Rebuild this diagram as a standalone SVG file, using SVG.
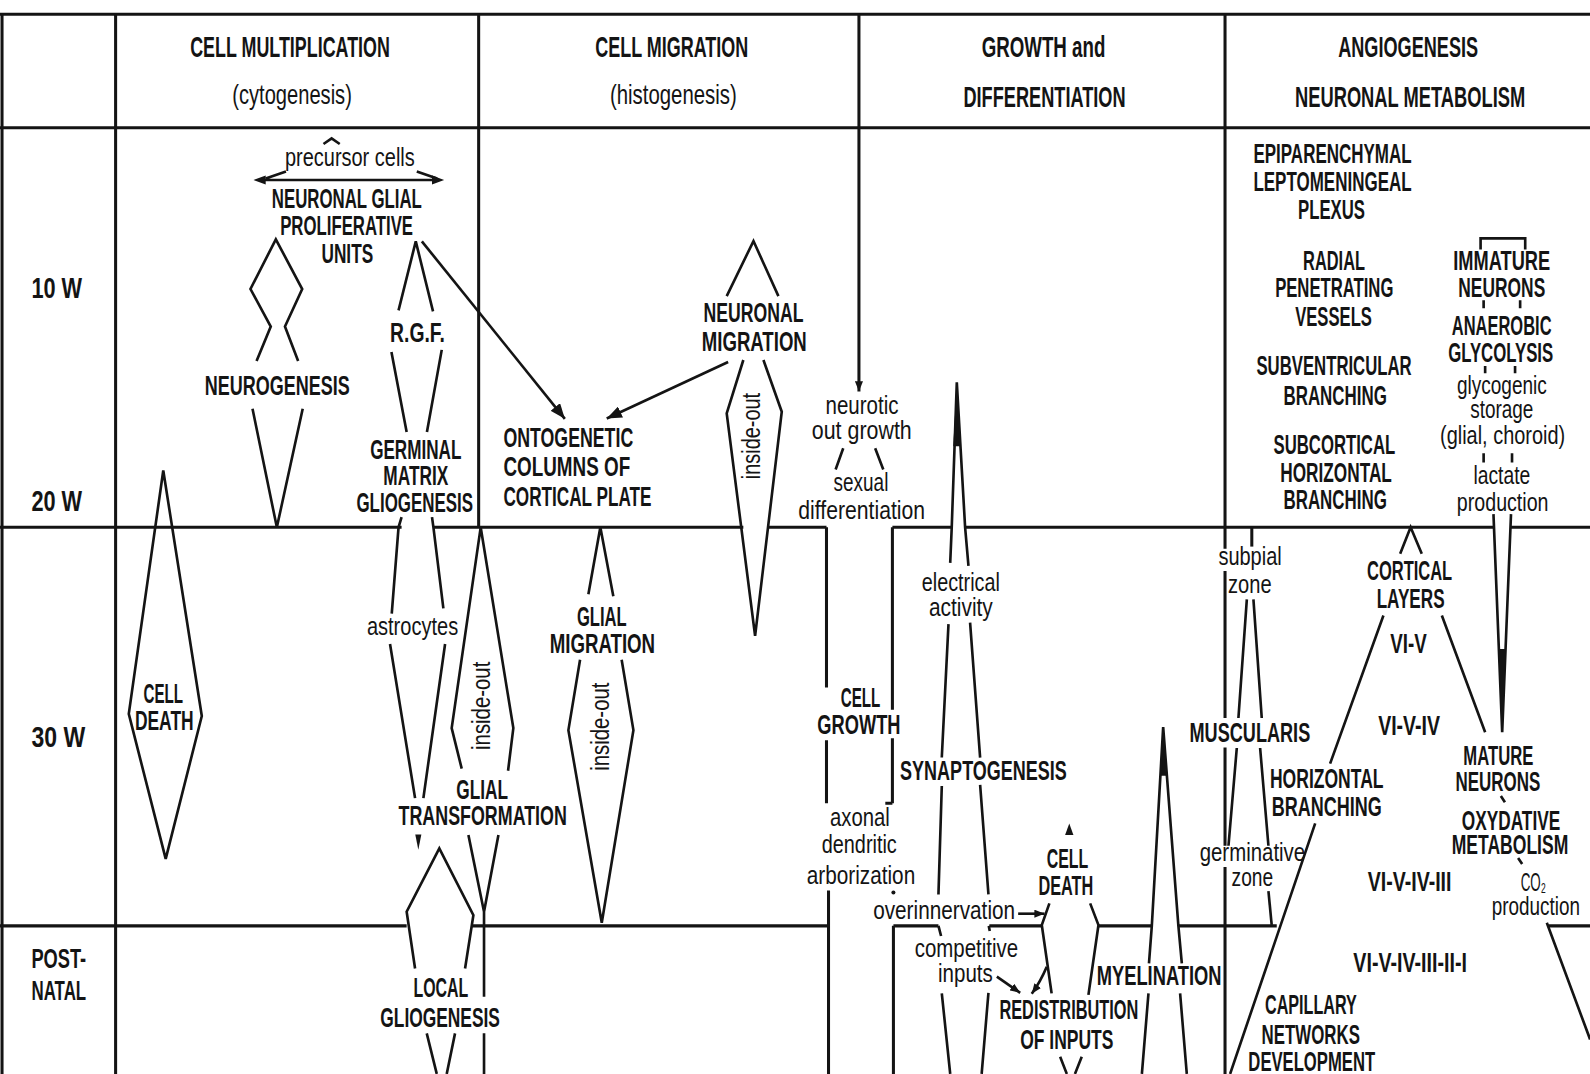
<svg xmlns="http://www.w3.org/2000/svg" width="1590" height="1074" viewBox="0 0 1590 1074">
<style>
.g{stroke:#141414;stroke-width:3;fill:none}
.s{stroke:#141414;stroke-width:2.6;fill:none;stroke-linejoin:miter}
.f{fill:#141414;stroke:none}
text{font-family:"Liberation Sans",Arial,sans-serif;fill:#141414;text-anchor:middle;font-weight:bold;font-size:27px}
.h{font-size:29px}
.hl{font-weight:normal;font-size:28px}
.lc{font-weight:normal;font-size:25px}
.st{text-anchor:start}
</style>
<defs>
<marker id="a" viewBox="0 0 10 8" refX="10" refY="4" markerWidth="15" markerHeight="12" markerUnits="userSpaceOnUse" orient="auto"><path d="M0,0L10,4L0,8z" fill="#141414"/></marker>
<marker id="b" viewBox="0 0 10 8" refX="10" refY="4" markerWidth="10" markerHeight="8" markerUnits="userSpaceOnUse" orient="auto"><path d="M0,0L10,4L0,8z" fill="#141414"/></marker>
</defs>
<rect width="1590" height="1074" fill="#fff"/>
<g transform="scale(1.0141)">
<g id="grid">
<path class="g" d="M0,14H1568 M2,14V1059 M0,126H1568 M114,14V1059 M472,14V520 M1208,14V541 M1208,563V708 M1208,737V834 M1208,855V1059"/>
<path class="g" d="M847,14V386" marker-end="url(#b)"/>
<path class="g" d="M0,520H396 M427,520H733 M757,520H815 M880,520H938.5 M951.7,520H1472.7 M1490,520H1568"/>
<path class="g" d="M815,520V678 M815,730V792 M880,520V700 M880,728V792 M873,792H880 M817,878V1059 M881,913V1059"/>
<path class="g" d="M0,913H401 M465,913H816 M881,913H925.4 M975.6,913H1027.3 M1083.2,913H1135.8 M1162,913H1259 M1527,913H1568"/>
</g>
<g id="headers">
<text class="h" x="286" y="56" textLength="197" lengthAdjust="spacingAndGlyphs">CELL MULTIPLICATION</text>
<text class="hl" x="288" y="103" textLength="118" lengthAdjust="spacingAndGlyphs">(cytogenesis)</text>
<text class="h" x="662.4" y="56" textLength="151" lengthAdjust="spacingAndGlyphs">CELL MIGRATION</text>
<text class="hl" x="664" y="103" textLength="125" lengthAdjust="spacingAndGlyphs">(histogenesis)</text>
<text class="h" x="1029" y="56" textLength="122" lengthAdjust="spacingAndGlyphs">GROWTH and</text>
<text class="h" x="1030" y="106" textLength="160" lengthAdjust="spacingAndGlyphs">DIFFERENTIATION</text>
<text class="h" x="1388.6" y="56" textLength="138" lengthAdjust="spacingAndGlyphs">ANGIOGENESIS</text>
<text class="h" x="1390.5" y="105.5" textLength="227" lengthAdjust="spacingAndGlyphs">NEURONAL METABOLISM</text>
</g>
<g id="ages">
<text class="h st" x="31" y="294" textLength="50" lengthAdjust="spacingAndGlyphs">10 W</text>
<text class="h st" x="31" y="503.5" textLength="50" lengthAdjust="spacingAndGlyphs">20 W</text>
<text class="h st" x="31" y="737" textLength="53" lengthAdjust="spacingAndGlyphs">30 W</text>
<text class="st" x="31" y="955" textLength="54" lengthAdjust="spacingAndGlyphs">POST-</text>
<text class="st" x="31" y="986" textLength="54" lengthAdjust="spacingAndGlyphs">NATAL</text>
</g>
<g id="connectors">
<path class="s" d="M416,238L557,413" marker-end="url(#a)"/>
<path class="s" d="M718,357L598.3,412.7" marker-end="url(#a)"/>
<path class="s" d="M1004,901H1030" marker-end="url(#b)"/>
<path class="s" d="M983,963L1006,979" marker-end="url(#b)"/>
<path class="s" d="M1032.2,953.3Q1026,968 1017.4,980" marker-end="url(#b)"/>
</g>
<g id="precursor">
<text class="lc" x="345" y="164" textLength="128" lengthAdjust="spacingAndGlyphs">precursor cells</text>
<path class="s" d="M319,142L327,136.5L335,142" stroke-width="2"/>
<path class="s" d="M256,177.5H432 M262,176L282,169 M411,169L431,176"/>
<path class="f" d="M250,177.5L262,173L262,182z M438,177.5L426,173L426,182z"/>
<text x="342" y="205.5" textLength="148" lengthAdjust="spacingAndGlyphs">NEURONAL GLIAL</text>
<text x="341.8" y="232" textLength="131" lengthAdjust="spacingAndGlyphs">PROLIFERATIVE</text>
<text x="342.5" y="259.5" textLength="51" lengthAdjust="spacingAndGlyphs">UNITS</text>
</g>
<g id="neurogenesis">
<path class="s" d="M253,356L267,322L247,285L272,236L298,285L281,322L294,356"/>
<text x="273.5" y="390" textLength="143" lengthAdjust="spacingAndGlyphs">NEUROGENESIS</text>
<path class="s" d="M249,403L273,520L298.5,403"/>
</g>
<g id="rgf">
<path class="s" d="M393,306L410,238L427,307"/>
<text x="411.7" y="337" textLength="54" lengthAdjust="spacingAndGlyphs">R.G.F.</text>
<path class="s" d="M386,347L401,426 M435.6,345L421,426"/>
<text x="410" y="452.6" textLength="90" lengthAdjust="spacingAndGlyphs">GERMINAL</text>
<text x="410" y="478.7" textLength="64" lengthAdjust="spacingAndGlyphs">MATRIX</text>
<text x="409" y="504.7" textLength="115" lengthAdjust="spacingAndGlyphs">GLIOGENESIS</text>
</g>
<g id="astrocytes">
<path class="s" d="M396,510L393,520L386.3,605 M426,510L427.4,520L437.2,600"/>
<text class="lc" x="406.8" y="626" textLength="90" lengthAdjust="spacingAndGlyphs">astrocytes</text>
<path class="s" d="M384.6,635L409.3,787 M438.9,635L417.5,787"/>
</g>
<g id="celldeath1">
<path class="s" d="M161,464L127,704L163.4,847L199,706z"/>
<text x="161" y="693" textLength="39" lengthAdjust="spacingAndGlyphs">CELL</text>
<text x="162" y="720" textLength="58" lengthAdjust="spacingAndGlyphs">DEATH</text>
</g>
<g id="insideout1">
<path class="s" d="M455.3,758L445.4,718L474,520L506.2,718L501,760"/>
<text class="lc" font-size="24" transform="translate(475,696) rotate(-90)" x="0" y="8" textLength="87" lengthAdjust="spacingAndGlyphs">inside-out</text>
</g>
<g id="glialtransformation">
<text x="475.5" y="788" textLength="51" lengthAdjust="spacingAndGlyphs">GLIAL</text>
<text x="476" y="814" textLength="166" lengthAdjust="spacingAndGlyphs">TRANSFORMATION</text>
<path class="f" d="M409.5,823L415.5,823L412.5,838z"/>
<path class="s" d="M461.9,823.5L477.3,899L491.5,823.5 M477.3,899V983 M477.3,1019V1059"/>
</g>
<g id="localgliogenesis">
<path class="s" d="M409.3,955L401,899L433.2,836.6L466.8,902.4L458.6,955"/>
<text x="434.7" y="983" textLength="54" lengthAdjust="spacingAndGlyphs">LOCAL</text>
<text x="434" y="1013" textLength="118" lengthAdjust="spacingAndGlyphs">GLIOGENESIS</text>
<path class="s" d="M420.8,1019L430.7,1059 M448.7,1019L440.5,1059"/>
</g>
<g id="neuronalmigration">
<path class="s" d="M716.6,292L743,237.7L767.6,292"/>
<text x="743" y="318" textLength="98.6" lengthAdjust="spacingAndGlyphs">NEURONAL</text>
<text x="743.8" y="346" textLength="103.6" lengthAdjust="spacingAndGlyphs">MIGRATION</text>
<path class="s" d="M733,355L716.6,407.6L744.6,627L770.9,406L752.8,355"/>
<text class="lc" font-size="24" transform="translate(741,430) rotate(-90)" x="0" y="8" textLength="85" lengthAdjust="spacingAndGlyphs">inside-out</text>
</g>
<g id="ontogenetic">
<text class="st" x="496.4" y="440.3" textLength="128" lengthAdjust="spacingAndGlyphs">ONTOGENETIC</text>
<text class="st" x="496.4" y="469" textLength="125" lengthAdjust="spacingAndGlyphs">COLUMNS OF</text>
<text class="st" x="496.4" y="499" textLength="146" lengthAdjust="spacingAndGlyphs">CORTICAL PLATE</text>
</g>
<g id="glialmigration">
<path class="s" d="M580.2,586L592,520L604.8,588"/>
<text x="593.4" y="617" textLength="49" lengthAdjust="spacingAndGlyphs">GLIAL</text>
<text x="594" y="644" textLength="104" lengthAdjust="spacingAndGlyphs">MIGRATION</text>
<path class="s" d="M572,650.5L560.5,720L593.4,910L624.6,720L613,650.5"/>
<text class="lc" font-size="24" transform="translate(592.6,716.6) rotate(-90)" x="0" y="8" textLength="87" lengthAdjust="spacingAndGlyphs">inside-out</text>
</g>
<g id="neuritic">
<text class="lc" x="850" y="408" textLength="72" lengthAdjust="spacingAndGlyphs">neurotic</text>
<text class="lc" x="849.8" y="433" textLength="98.5" lengthAdjust="spacingAndGlyphs">out growth</text>
<path class="s" d="M824,463L831.5,442 M863,442L871,463" stroke-width="2.2"/>
<text class="lc" x="849" y="484" textLength="54" lengthAdjust="spacingAndGlyphs">sexual</text>
<text class="lc" x="849.7" y="512" textLength="125" lengthAdjust="spacingAndGlyphs">differentiation</text>
</g>
<g id="cellgrowth">
<text x="848.5" y="697" textLength="39" lengthAdjust="spacingAndGlyphs">CELL</text>
<text x="847" y="724" textLength="82" lengthAdjust="spacingAndGlyphs">GROWTH</text>
<text class="lc" x="848" y="815" textLength="59" lengthAdjust="spacingAndGlyphs">axonal</text>
<text class="lc" x="847.3" y="841" textLength="74" lengthAdjust="spacingAndGlyphs">dendritic</text>
<text class="lc" x="849" y="872" textLength="107" lengthAdjust="spacingAndGlyphs">arborization</text>
<circle class="f" cx="881" cy="880" r="2"/>
</g>
<g id="synaptogenesis">
<path class="f" d="M943.5,377L940,440L947,440z"/>
<path class="s" d="M937,555L938.5,520L943.5,377L951.7,520L955,558"/>
<text class="lc" x="947.5" y="583" textLength="77" lengthAdjust="spacingAndGlyphs">electrical</text>
<text class="lc" x="947.5" y="607" textLength="63" lengthAdjust="spacingAndGlyphs">activity</text>
<path class="s" d="M935.3,615.5L928.7,747 M956.6,614L966.5,747"/>
<text x="969.8" y="769" textLength="164.4" lengthAdjust="spacingAndGlyphs">SYNAPTOGENESIS</text>
<path class="s" d="M928.7,775L925.4,882 M966.5,774L974.7,882 M925.4,913L928,923 M975,913L976,918"/>
<text class="lc" x="931" y="906" textLength="140" lengthAdjust="spacingAndGlyphs">overinnervation</text>
<text class="lc" x="953" y="944" textLength="102" lengthAdjust="spacingAndGlyphs">competitive</text>
<text class="lc" x="952" y="968" textLength="54" lengthAdjust="spacingAndGlyphs">inputs</text>
<path class="s" d="M928.7,979.5L937,1059 M974.7,979L968,1059"/>
</g>
<g id="celldeath2">
<path class="f" d="M1054.4,812L1050.3,823.5L1058.5,823.5z"/>
<text x="1052.7" y="855.5" textLength="41" lengthAdjust="spacingAndGlyphs">CELL</text>
<text x="1051" y="883" textLength="54" lengthAdjust="spacingAndGlyphs">DEATH</text>
<path class="s" d="M1034.8,890.8L1027.3,912.2L1037,979.6 M1075,890.8L1083.2,912.2L1073.3,981"/>
</g>
<g id="redistribution">
<text x="1054" y="1005" textLength="137" lengthAdjust="spacingAndGlyphs">REDISTRIBUTION</text>
<text x="1052" y="1034" textLength="92" lengthAdjust="spacingAndGlyphs">OF INPUTS</text>
<path class="s" d="M1045.4,1042L1052,1059 M1066.7,1042L1060,1059"/>
</g>
<g id="myelination">
<path class="f" d="M1147,717L1144,765L1150,765z"/>
<path class="s" d="M1133,950L1135.8,913L1147,717L1162,913L1165.4,950"/>
<text x="1143" y="971.5" textLength="123" lengthAdjust="spacingAndGlyphs">MYELINATION</text>
<path class="s" d="M1132.5,979.6L1126,1059 M1163.7,979.6L1170.3,1059"/>
</g>
<g id="vessels">
<text x="1314" y="160.7" textLength="156" lengthAdjust="spacingAndGlyphs">EPIPARENCHYMAL</text>
<text x="1314" y="188" textLength="156" lengthAdjust="spacingAndGlyphs">LEPTOMENINGEAL</text>
<text x="1313" y="216" textLength="66" lengthAdjust="spacingAndGlyphs">PLEXUS</text>
<text x="1315.5" y="266" textLength="61" lengthAdjust="spacingAndGlyphs">RADIAL</text>
<text x="1315.7" y="293" textLength="116.6" lengthAdjust="spacingAndGlyphs">PENETRATING</text>
<text x="1315" y="321" textLength="75.7" lengthAdjust="spacingAndGlyphs">VESSELS</text>
<text x="1315.5" y="370" textLength="153" lengthAdjust="spacingAndGlyphs">SUBVENTRICULAR</text>
<text x="1316.6" y="399" textLength="102" lengthAdjust="spacingAndGlyphs">BRANCHING</text>
<text x="1315.8" y="448" textLength="120" lengthAdjust="spacingAndGlyphs">SUBCORTICAL</text>
<text x="1317.5" y="475" textLength="110" lengthAdjust="spacingAndGlyphs">HORIZONTAL</text>
<text x="1316.6" y="502" textLength="102" lengthAdjust="spacingAndGlyphs">BRANCHING</text>
</g>
<g id="metabolism">
<path class="s" d="M1460,246V235H1504V246" stroke-width="2.2"/>
<text x="1480.8" y="266" textLength="95.6" lengthAdjust="spacingAndGlyphs">IMMATURE</text>
<text x="1480.9" y="293" textLength="85.7" lengthAdjust="spacingAndGlyphs">NEURONS</text>
<path class="s" d="M1463,296V304 M1499,296V304 M1464.5,361V368 M1494,361V368 M1463,447V456 M1491,447V456" stroke-width="2"/>
<text x="1480.8" y="330" textLength="98.4" lengthAdjust="spacingAndGlyphs">ANAEROBIC</text>
<text x="1479.8" y="357" textLength="103.6" lengthAdjust="spacingAndGlyphs">GLYCOLYSIS</text>
<text class="lc" x="1481" y="389" textLength="88.7" lengthAdjust="spacingAndGlyphs">glycogenic</text>
<text class="lc" x="1480.9" y="412" textLength="62.3" lengthAdjust="spacingAndGlyphs">storage</text>
<text class="lc" x="1481.7" y="438" textLength="123.4" lengthAdjust="spacingAndGlyphs">(glial, choroid)</text>
<text class="lc" x="1481" y="477" textLength="56" lengthAdjust="spacingAndGlyphs">lactate</text>
<text class="lc" x="1481.8" y="504" textLength="90.4" lengthAdjust="spacingAndGlyphs">production</text>
<path class="s" d="M1472.7,507L1481.3,722L1490,507"/>
<path class="f" d="M1477.8,640L1484.8,640L1481.3,722z"/>
</g>
<g id="muscularis">
<path class="g" d="M1234.4,520V539"/>
<text class="lc" x="1232.7" y="557" textLength="62.5" lengthAdjust="spacingAndGlyphs">subpial</text>
<text class="lc" x="1232.5" y="585" textLength="43" lengthAdjust="spacingAndGlyphs">zone</text>
<path class="s" d="M1229.5,591L1221.2,708 M1236,591L1244.2,708"/>
<text x="1232.5" y="732" textLength="119" lengthAdjust="spacingAndGlyphs">MUSCULARIS</text>
<path class="s" d="M1219.6,737.6L1211.4,834 M1242.6,737.6L1250.8,834"/>
<text class="lc" x="1235" y="849" textLength="104" lengthAdjust="spacingAndGlyphs">germinative</text>
<text class="lc" x="1235" y="874" textLength="41" lengthAdjust="spacingAndGlyphs">zone</text>
<path class="s" d="M1250.8,878.7L1254,912"/>
</g>
<g id="corticallayers">
<path class="s" d="M1380.7,546L1391,520L1402,546"/>
<text x="1390" y="572" textLength="84" lengthAdjust="spacingAndGlyphs">CORTICAL</text>
<text x="1391" y="600" textLength="67" lengthAdjust="spacingAndGlyphs">LAYERS</text>
<path class="s" d="M1364.2,607L1311.6,753 M1296.9,812L1213,1059 M1421.8,607L1464.5,722 M1525.3,910L1568,1025"/>
<text x="1389" y="644" textLength="36" lengthAdjust="spacingAndGlyphs">VI-V</text>
<text x="1389.5" y="725" textLength="61" lengthAdjust="spacingAndGlyphs">VI-V-IV</text>
<text x="1390" y="879" textLength="82.6" lengthAdjust="spacingAndGlyphs">VI-V-IV-III</text>
<text x="1390.5" y="958" textLength="112" lengthAdjust="spacingAndGlyphs">VI-V-IV-III-II-I</text>
</g>
<g id="horizontalbranching">
<text x="1308.3" y="777" textLength="112" lengthAdjust="spacingAndGlyphs">HORIZONTAL</text>
<text x="1308.3" y="805" textLength="108.6" lengthAdjust="spacingAndGlyphs">BRANCHING</text>
</g>
<g id="capillary">
<text x="1292.7" y="1000" textLength="90.5" lengthAdjust="spacingAndGlyphs">CAPILLARY</text>
<text x="1292.5" y="1029" textLength="97" lengthAdjust="spacingAndGlyphs">NETWORKS</text>
<text x="1293.5" y="1056" textLength="125" lengthAdjust="spacingAndGlyphs">DEVELOPMENT</text>
</g>
<g id="matureneurons">
<text x="1477.5" y="754" textLength="69" lengthAdjust="spacingAndGlyphs">MATURE</text>
<text x="1477" y="780" textLength="83.7" lengthAdjust="spacingAndGlyphs">NEURONS</text>
<path class="s" d="M1480,785L1484,791 M1497,846L1501,852" stroke-width="2"/>
<text x="1490" y="818" textLength="97" lengthAdjust="spacingAndGlyphs">OXYDATIVE</text>
<text x="1489" y="842" textLength="115" lengthAdjust="spacingAndGlyphs">METABOLISM</text>
<text class="lc" x="1512" y="879" font-size="27" textLength="25" lengthAdjust="spacingAndGlyphs">CO₂</text>
<text class="lc" x="1514.5" y="902" textLength="87" lengthAdjust="spacingAndGlyphs">production</text>
</g>
</g>
</svg>
